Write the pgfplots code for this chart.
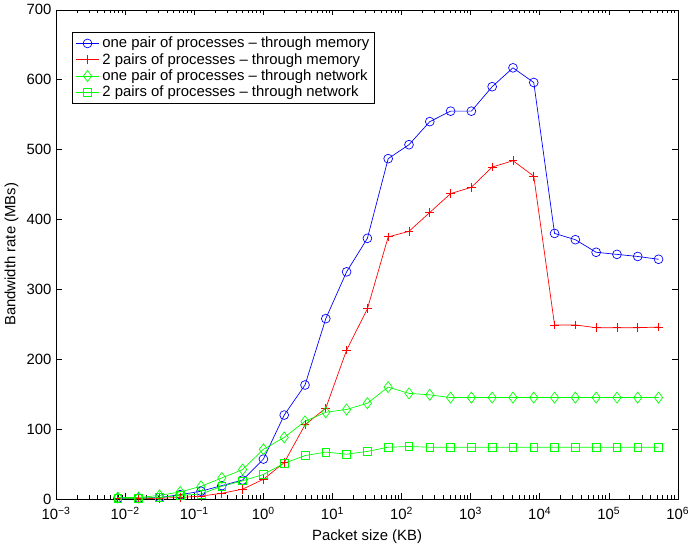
\documentclass[border=0pt]{standalone}
\usepackage{fontspec}
\setmainfont{Liberation Sans}
\usepackage{pgfplots}
\pgfplotsset{compat=1.18}
\usepackage{pgfplotstable}

\newcommand{\figfont}{\fontsize{10.8}{12.5}\selectfont}

% packet size (KB) vs bandwidth (MBs)
\pgfplotstableread{
x          mem1 mem2 net1 net2
0.0078125  1    0    2    1
0.015625   1    0    2    1
0.03125    2    1    5    2
0.0625     6    2    10   5
0.125      11   4    18   7
0.25       19   8    30   18
0.5        27   14   42   26
1          57   28   71   35
2          120  52   88   51
4          163  106  111  62
8          258  130  124  67
16         325  213  128  64
32         373  272  137  68
64         487  375  160  74
128        507  383  151  75
256        540  410  149  74
512        555  437  145  74
1024       555  446  145  74
2048       590  475  145  74
4096       617  484  145  74
8192       596  462  145  74
16384      380  249  145  74
32768      371  249  145  74
65536      353  245  145  74
131072     350  245  145  74
262144     347  245  145  74
524288     343  246  145  74
}\bwdata

\begin{document}
\begin{tikzpicture}
\begin{semilogxaxis}[
    width=451.7pt, height=355.3pt,
    scale only axis,
    xmin=1e-3, xmax=1e6,
    ymin=0, ymax=700,
    ytick={0,100,...,700},
    xtick={1e-3,1e-2,1e-1,1,1e1,1e2,1e3,1e4,1e5,1e6},
    xticklabels={10\textsuperscript{−3},10\textsuperscript{−2},10\textsuperscript{−1},10\textsuperscript{0},10\textsuperscript{1},10\textsuperscript{2},10\textsuperscript{3},10\textsuperscript{4},10\textsuperscript{5},10\textsuperscript{6}},
    /pgf/number format/assume math mode=true,
    tick align=inside,
    major tick length=4pt,
    minor tick length=2.5pt,
    tick style={black, line width=0.4pt},
    axis line style={line width=0.5pt},
    xlabel={Packet size (KB)},
    ylabel={Bandwidth rate (MBs)},
    label style={font=\figfont},
    xlabel style={yshift=0pt},
    ylabel style={yshift=-1pt},
    tick label style={font=\figfont},
    xticklabel style={yshift=-2.5pt},
    legend style={at={(0.026,0.955)}, anchor=north west, draw=black,
        line width=0.5pt, font=\figfont, row sep=-1.5pt,
        inner xsep=2pt, inner ysep=1.5pt},
    legend cell align=left,
    legend image post style={line width=0.5pt},
    every axis plot/.append style={line width=0.5pt, mark size=3.2pt},
]
\addplot[blue, mark=o, mark options={draw=blue, line width=0.5pt}] table[x=x, y=mem1] {\bwdata};
\addlegendentry{one pair of processes – through memory}
\addplot[red, mark=+, mark size=3.2pt, mark options={draw=red, line width=0.6pt}] table[x=x, y=mem2] {\bwdata};
\addlegendentry{2 pairs of processes – through memory}
\addplot[green, mark=diamond, mark size=4pt, mark options={draw=green, line width=0.5pt}] table[x=x, y=net1] {\bwdata};
\addlegendentry{one pair of processes – through network}
\addplot[green, mark=square, mark size=2.8pt, mark options={draw=green, line width=0.5pt}] table[x=x, y=net2] {\bwdata};
\addlegendentry{2 pairs of processes – through network}
\end{semilogxaxis}
\end{tikzpicture}
\end{document}
